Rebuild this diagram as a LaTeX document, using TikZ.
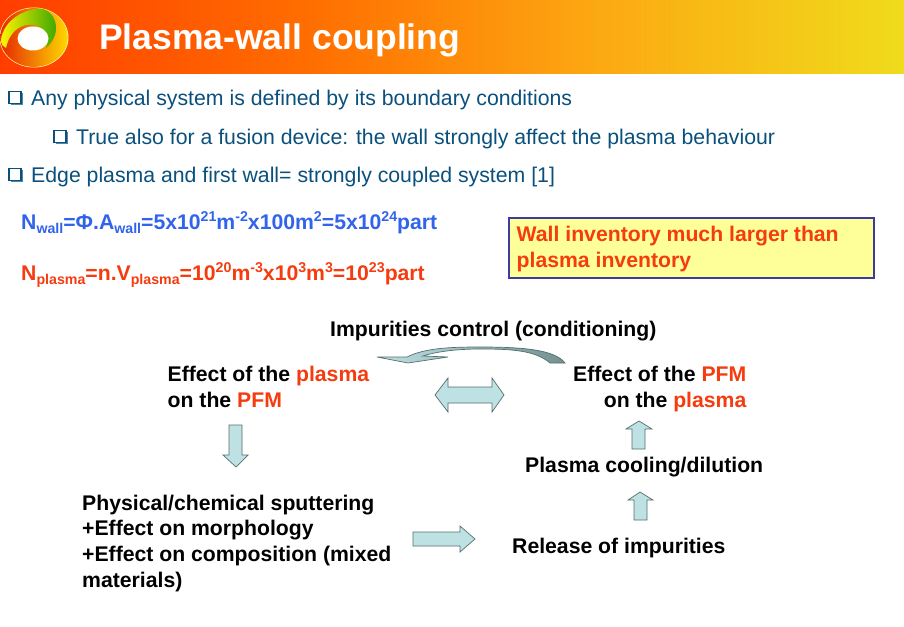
\documentclass[tikz,border=0pt]{standalone}
\usepackage{fontspec}
\setmainfont{Liberation Sans}
\definecolor{bodyblue}{RGB}{10,80,125}
\definecolor{wallblue}{RGB}{50,100,235}
\definecolor{hotred}{RGB}{245,60,15}
\definecolor{arrowfill}{RGB}{190,225,228}
\definecolor{arrowline}{RGB}{85,110,110}
\definecolor{boxfill}{RGB}{255,255,153}
\definecolor{boxline}{RGB}{60,60,160}
\pgfdeclarehorizontalshading{banner}{100bp}{
 rgb(0bp)=(1,0.24,0);
 rgb(25bp)=(1,0.24,0);
 rgb(42bp)=(1,0.43,0);
 rgb(58bp)=(0.99,0.66,0.07);
 rgb(75bp)=(0.94,0.86,0.11);
 rgb(100bp)=(0.94,0.86,0.11)}
\newcommand{\sbs}[1]{\raisebox{-0.22em}{\fontsize{14.2}{15}\selectfont #1}}
\newcommand{\sps}[1]{\raisebox{0.36em}{\fontsize{14.2}{15}\selectfont #1}}
\newcommand{\chk}{\makebox[23pt][l]{\tikz[baseline=0pt,x=1pt,y=1pt]{\draw[bodyblue,line width=1.5pt] (0.8,1.6) rectangle (13,13.5);\draw[bodyblue!70,line width=1.2pt] (2.5,0.4)--(14.4,0.4)--(14.4,12);}}}
\tikzset{
 bodytext/.style={anchor=base west,inner sep=0pt,text=bodyblue,font=\fontsize{21.25}{25}\selectfont},
 eqn/.style={anchor=base west,inner sep=0pt,font=\bfseries\fontsize{21.2}{25}\selectfont},
 flow/.style={anchor=base west,inner sep=0pt,align=left,text=black,font=\bfseries\fontsize{21.2}{25.6}\selectfont},
 blockarrow/.style={draw=arrowline,fill=arrowfill,line width=0.7pt,line join=miter}
}
\begin{document}
\begin{tikzpicture}[x=1pt,y=-1pt]
\useasboundingbox (0,0) rectangle (904,626);
\fill[white] (0,0) rectangle (904,626);
\shade[shading=banner] (0,0) rectangle (904,73.5);
% logo
\fill[white!70!yellow] (34,37.5) ellipse [x radius=34.5,y radius=30];
\shade[left color=red!65!orange!90!black,right color=yellow!70!orange] (34,37.5) ellipse [x radius=33.8,y radius=29.4];
\shade[left color=yellow!90!orange,right color=green!55!black!75!yellow] (0.8,41) .. controls (3,20) and (25,8.2) .. (42,8.6) .. controls (50,11) and (56,18) .. (56,28) .. controls (56,36) and (52,43) .. (46,48) .. controls (50,38) and (46,28) .. (35,25) .. controls (22,23) and (10,30) .. (6,48) .. controls (3,47) and (1,44) .. (0.8,41) -- cycle;
\fill[white] (33,38.5) ellipse [x radius=15.5,y radius=12];
\node[anchor=base west,inner sep=0pt,text=white,font=\bfseries\fontsize{35.5}{38}\selectfont] (title) at (99,49) {Plasma-wall coupling};
\node[bodytext] (b1) at (8,105) {\chk Any physical system is defined by its boundary conditions};
\node[bodytext] (b2) at (53,144) {\chk True also for a fusion device: the wall strongly affect the plasma behaviour};
\node[bodytext] (b3) at (8,182) {\chk Edge plasma and first wall= strongly coupled system [1]};
\node[eqn,text=wallblue] (nwall) at (21,229) {N\sbs{wall}=Φ.A\sbs{wall}=5x10\sps{21}m\sps{-2}x100m\sps{2}=5x10\sps{24}part};
\node[eqn,text=hotred] (nplasma) at (21,280) {N\sbs{plasma}=n.V\sbs{plasma}=10\sps{20}m\sps{-3}x10\sps{3}m\sps{3}=10\sps{23}part};
\node[draw=boxline,fill=boxfill,line width=1.6pt,minimum width=365pt,minimum height=60pt,anchor=north west,inner sep=0pt] (box) at (508,217) {};
\node[flow,text=hotred] (boxt) at (516.5,267.5) {Wall inventory much larger than\\plasma inventory};
\node[flow] (ctrl) at (330,336) {Impurities control (conditioning)};
\node[flow] (effa) at (167.5,407.5) {Effect of the \textcolor{hotred}{plasma}\\on the \textcolor{hotred}{PFM}};
\node[flow,align=right] (effb) at (573,407.5) {Effect of the \textcolor{hotred}{PFM}\\on the \textcolor{hotred}{plasma}};
\node[flow] (sput) at (82,587) {Physical/chemical sputtering\\+Effect on morphology\\+Effect on composition (mixed\\materials)};
\node[flow] (cool) at (525,472.5) {Plasma cooling/dilution};
\node[flow] (rel) at (512,553.5) {Release of impurities};
% block arrows
\draw[blockarrow] (435,395)--(448,378)--(448,387)--(492,387)--(492,378)--(504,395)--(492,412)--(492,403)--(448,403)--(448,412)--cycle;
\draw[blockarrow] (639,421)--(652,429)--(645,429)--(645,449)--(632,449)--(632,429)--(626,429)--cycle;
\draw[blockarrow] (640,492)--(653,500)--(647,500)--(647,520)--(634,520)--(634,500)--(628,500)--cycle;
\draw[blockarrow] (475,539)--(460,552)--(460,546)--(413,546)--(413,532)--(460,532)--(460,526)--cycle;
\draw[blockarrow] (236,467)--(223,455)--(229,455)--(229,425)--(242,425)--(242,455)--(248,455)--cycle;
\draw[draw=arrowline,line width=0.7pt,left color=arrowfill,right color=arrowline!70!arrowfill] (377,357)--(407,357) .. controls (425,348) and (450,347) .. (480,347) .. controls (525,347) and (555,350) .. (565,363)--(550,363) .. controls (535,350) and (510,349) .. (480,349) .. controls (455,349) and (435,352) .. (423,356)--(448,357)--(408,363)--cycle;
\end{tikzpicture}
\end{document}
